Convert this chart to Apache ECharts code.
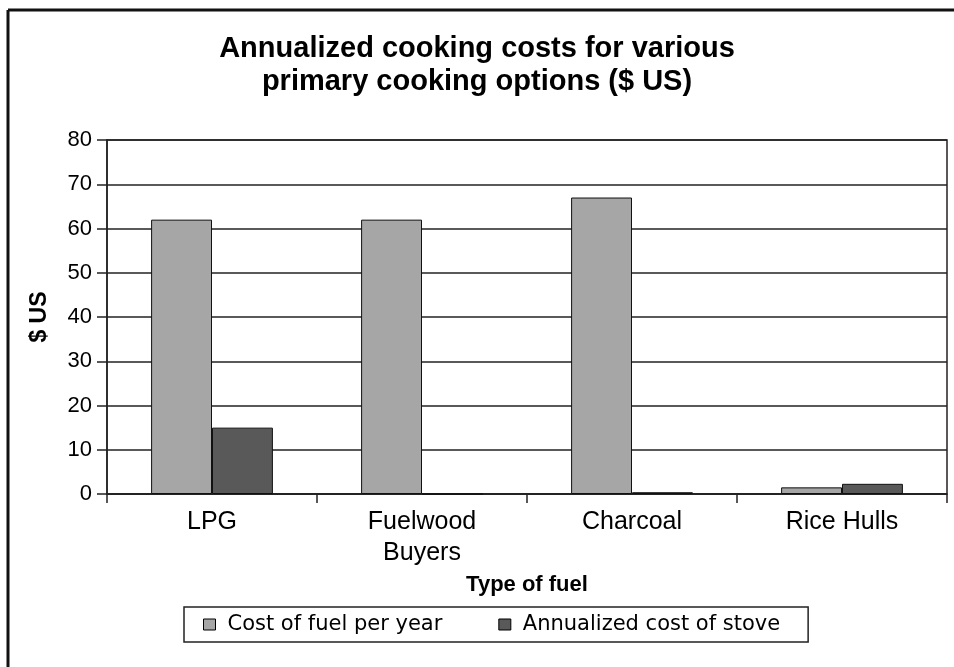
<!DOCTYPE html>
<html><head><meta charset="utf-8">
<script src="https://cdn.jsdelivr.net/npm/echarts@6/dist/echarts.min.js"></script>
<style>html,body{margin:0;padding:0;background:#fff}#c{width:954px;height:667px}</style>
</head><body><div id="c"></div>
<script>
const categories = ['LPG', 'Fuelwood\nBuyers', 'Charcoal', 'Rice Hulls'];
const fuelCost = [62, 62, 67, 1.5];
const stoveCost = [15, 0, 0.4, 2.3];
const seriesNames = ['Cost of fuel per year', 'Annualized cost of stove'];
const titleText = 'Annualized cooking costs for various\nprimary cooking options ($ US)';
const yTicks = [0, 80, 10];

const chart = echarts.init(document.getElementById('c'), null, {renderer: 'canvas'});
const FONT = '"Liberation Sans", Arial, sans-serif';
chart.setOption({
  animation: false,
  backgroundColor: '#fff',
  title: {
    text: titleText, left: 'center', top: 27,
    textStyle: {fontFamily: FONT, fontWeight: 'bold', fontSize: 29, lineHeight: 33, color: '#000'}
  },
  grid: {left: 107, right: 7, top: 140, bottom: 173, show: true, borderColor: '#222', borderWidth: 1.5},
  legend: {
    top: 607, left: 184, itemWidth: 12, itemHeight: 11, itemGap: 56,
    padding: [7, 28, 7, 19],
    borderColor: '#222', borderWidth: 1.5,
    icon: 'rect',
    textStyle: {fontFamily: '"DejaVu Sans", sans-serif', fontSize: 21, color: '#000', padding: [0, 0, 0, 7]},
    data: seriesNames.map(n => ({name: n, itemStyle: {borderColor: '#000', borderWidth: 1}}))
  },
  xAxis: {
    type: 'category', data: categories,
    name: 'Type of fuel', nameLocation: 'middle', nameGap: 80,
    nameTextStyle: {fontFamily: FONT, fontWeight: 'bold', fontSize: 22, color: '#000'},
    axisLine: {lineStyle: {color: '#222', width: 1.5}},
    axisTick: {show: true, length: 9, lineStyle: {color: '#222', width: 1.5}},
    axisLabel: {fontFamily: FONT, fontSize: 25, color: '#000', margin: 13, lineHeight: 31}
  },
  yAxis: {
    type: 'value', min: yTicks[0], max: yTicks[1], interval: yTicks[2],
    name: '$ US', nameLocation: 'middle', nameGap: 56, nameRotate: 90,
    nameTextStyle: {fontFamily: FONT, fontWeight: 'bold', fontSize: 23, color: '#000'},
    axisLine: {show: true, lineStyle: {color: '#222', width: 1.5}},
    axisTick: {show: true, length: 10, lineStyle: {color: '#222', width: 1.5}},
    axisLabel: {fontFamily: FONT, fontSize: 22, color: '#000', margin: 15},
    splitLine: {lineStyle: {color: '#222', width: 1.5}}
  },
  series: [
    {name: seriesNames[0], type: 'bar', data: fuelCost, barGap: '0%', barCategoryGap: '42%',
     itemStyle: {color: '#a6a6a6', borderColor: '#111', borderWidth: 1}},
    {name: seriesNames[1], type: 'bar', data: stoveCost,
     itemStyle: {color: '#595959', borderColor: '#111', borderWidth: 1}}
  ],
  graphic: [
    {type: 'line', shape: {x1: 8, y1: 10, x2: 954, y2: 10}, style: {stroke: '#111', lineWidth: 3}},
    {type: 'line', shape: {x1: 8, y1: 10, x2: 8, y2: 667}, style: {stroke: '#111', lineWidth: 3}}
  ]
});
</script></body></html>
